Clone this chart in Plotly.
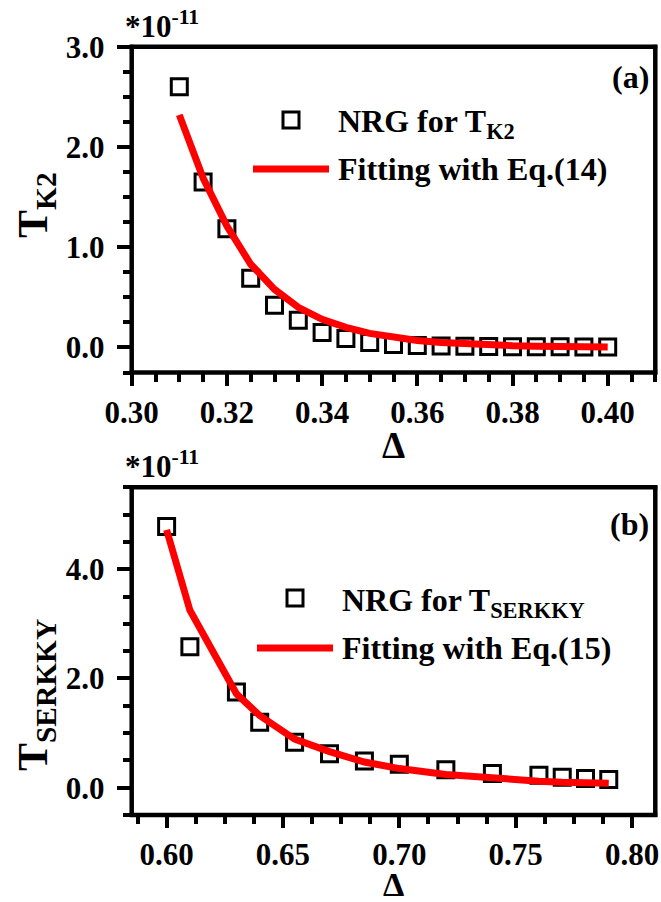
import plotly.graph_objects as go

W, H = 661, 902

# ---------------- data ----------------
# panel (a)
delta_a = [0.310, 0.315, 0.320, 0.325, 0.330, 0.335, 0.340, 0.345, 0.350, 0.355,
           0.360, 0.365, 0.370, 0.375, 0.380, 0.385, 0.390, 0.395, 0.400]
nrg_tk2 = [2.60, 1.65, 1.185, 0.69, 0.42, 0.27, 0.15, 0.09, 0.05, 0.03,
           0.02, 0.015, 0.012, 0.010, 0.008, 0.007, 0.006, 0.005, 0.004]
fit_tk2 = [2.32, 1.69, 1.21, 0.83, 0.58, 0.40, 0.28, 0.20, 0.14, 0.10,
           0.07, 0.05, 0.035, 0.025, 0.018, 0.013, 0.010, 0.007, 0.005]

# panel (b)
delta_b = [0.600, 0.610, 0.630, 0.640, 0.655, 0.670, 0.685, 0.700, 0.720, 0.740,
           0.760, 0.770, 0.780, 0.790]
nrg_serkky = [4.78, 2.58, 1.75, 1.20, 0.83, 0.62, 0.49, 0.43, 0.33, 0.26,
              0.23, 0.19, 0.17, 0.15]
fit_serkky = [4.72, 3.25, 1.72, 1.32, 0.89, 0.66, 0.47, 0.35, 0.24, 0.17,
              0.12, 0.10, 0.09, 0.08]

xticks_a = [0.30, 0.32, 0.34, 0.36, 0.38, 0.40]
yticks_a = [0.0, 1.0, 2.0, 3.0]
xticks_b = [0.60, 0.65, 0.70, 0.75, 0.80]
yticks_b = [0.0, 2.0, 4.0]

FONT = "Times New Roman, Liberation Serif, serif"
BLACK = "#000000"
RED = "#ff0000"


def px(x):
    return x / W


def py(y):
    return 1 - y / H


# plot area pixel boxes
L, R = 131.7, 655.3
A_T, A_B = 46.7, 372.5
B_T, B_B = 487.3, 815.0

fig = go.Figure()

# ---- traces panel (a)
fig.add_trace(go.Scatter(x=delta_a, y=nrg_tk2, mode="markers", xaxis="x", yaxis="y",
                         marker=dict(symbol="square-open", size=16, color=BLACK,
                                     line=dict(width=3, color=BLACK)),
                         showlegend=False, name="NRG for T_K2"))
fig.add_trace(go.Scatter(x=delta_a, y=fit_tk2, mode="lines", xaxis="x", yaxis="y",
                         line=dict(color=RED, width=7), showlegend=False,
                         name="Fitting with Eq.(14)"))
# ---- traces panel (b)
fig.add_trace(go.Scatter(x=delta_b, y=nrg_serkky, mode="markers", xaxis="x2", yaxis="y2",
                         marker=dict(symbol="square-open", size=16, color=BLACK,
                                     line=dict(width=3, color=BLACK)),
                         showlegend=False, name="NRG for T_SERKKY"))
fig.add_trace(go.Scatter(x=delta_b, y=fit_serkky, mode="lines", xaxis="x2", yaxis="y2",
                         line=dict(color=RED, width=7), showlegend=False,
                         name="Fitting with Eq.(15)"))

tickfont = dict(family=FONT, size=31, color=BLACK, weight="bold")


def main_x(rng, dom_anchor, tickvals, minor_dtick, minor_tick0):
    return dict(range=rng, domain=[px(L), px(R)], anchor=dom_anchor, automargin=False,
                showline=False,
                ticks="outside", ticklen=12, tickwidth=4, tickcolor=BLACK,
                tickvals=tickvals, ticktext=[f"{v:.2f}" for v in tickvals],
                minor=dict(ticks="outside", ticklen=8, tickwidth=3.5, tickcolor=BLACK,
                           dtick=minor_dtick, tick0=minor_tick0, showgrid=False),
                tickfont=tickfont, showgrid=False, zeroline=False)


def top_x(rng, overlay, anchor, tickvals, minor_dtick, minor_tick0):
    return dict(range=rng, overlaying=overlay, anchor=anchor, side="top",
                domain=[px(L), px(R)], automargin=False, showline=False,
                ticks="inside", ticklen=13, tickwidth=4, tickcolor=BLACK,
                tickvals=tickvals, showticklabels=False,
                minor=dict(ticks="inside", ticklen=7, tickwidth=3.5, tickcolor=BLACK,
                           dtick=minor_dtick, tick0=minor_tick0, showgrid=False),
                showgrid=False, zeroline=False)


def main_y(rng, dom, anchor, tickvals, minor_dtick):
    return dict(range=rng, domain=dom, anchor=anchor, automargin=False,
                showline=False,
                ticks="outside", ticklen=14, tickwidth=4, tickcolor=BLACK,
                tickvals=tickvals, ticktext=[f"{v:.1f}" for v in tickvals],
                minor=dict(ticks="outside", ticklen=8, tickwidth=3.5, tickcolor=BLACK,
                           dtick=minor_dtick, tick0=0, showgrid=False),
                tickfont=tickfont, showgrid=False, zeroline=False,
                ticklabelstandoff=6)


def right_y(rng, overlay, anchor, tickvals, minor_dtick):
    return dict(range=rng, overlaying=overlay, anchor=anchor, side="right",
                automargin=False, showline=False,
                ticks="inside", ticklen=13, tickwidth=4, tickcolor=BLACK,
                tickvals=tickvals, showticklabels=False,
                minor=dict(ticks="inside", ticklen=7, tickwidth=3.5, tickcolor=BLACK,
                           dtick=minor_dtick, tick0=0, showgrid=False),
                showgrid=False, zeroline=False)


rng_xa = [0.30, 0.41]
rng_ya = [-0.25, 3.0]
rng_xb = [0.585, 0.81]
rng_yb = [-0.5, 5.5]

fig.update_layout(
    width=W, height=H,
    margin=dict(l=0, r=0, t=0, b=0, pad=0),
    paper_bgcolor="white", plot_bgcolor="white",
    xaxis=main_x(rng_xa, "y", xticks_a, 0.005, 0.30),
    yaxis=main_y(rng_ya, [py(A_B), py(A_T)], "x", yticks_a, 0.25),
    xaxis3=top_x(rng_xa, "x", "y", xticks_a, 0.005, 0.30),
    yaxis3=right_y(rng_ya, "y", "x", yticks_a, 0.25),
    xaxis2=main_x(rng_xb, "y2", xticks_b, 0.0125, 0.5875),
    yaxis2=main_y(rng_yb, [py(B_B), py(B_T)], "x2", yticks_b, 0.5),
    xaxis4=top_x(rng_xb, "x2", "y2", xticks_b, 0.0125, 0.5875),
    yaxis4=right_y(rng_yb, "y2", "x2", yticks_b, 0.5),
)

# plot frames (axis box lines), drawn as four edges per panel in paper coords
FW = 4.5
for top, bot in ((A_T, A_B), (B_T, B_B)):
    edges = ((L - 2, top, R + 2, top), (L - 2, bot, R + 2, bot),
             (L, top - 2, L, bot + 2), (R, top - 2, R, bot + 2))
    for (x0, y0, x1, y1) in edges:
        fig.add_shape(type="line", xref="paper", yref="paper",
                      x0=px(x0), x1=px(x1), y0=py(y0), y1=py(y1),
                      line=dict(color=BLACK, width=FW), layer="above")


def txt(s, x, y, size, xanchor="left", yanchor="middle", angle=0):
    fig.add_annotation(text=s, x=px(x), y=py(y), xref="paper", yref="paper",
                       xanchor=xanchor, yanchor=yanchor, showarrow=False,
                       textangle=angle, borderpad=0,
                       font=dict(family=FONT, size=size, color=BLACK, weight="bold"))


# multipliers
txt("*10<sup>-11</sup>", 124, 24, 31)
txt("*10<sup>-11</sup>", 124, 464, 31)
# panel labels
txt("(a)", 650, 77, 32, xanchor="right")
txt("(b)", 650, 524, 32, xanchor="right")
# axis titles
txt("Δ", 393, 446, 37, xanchor="center")
txt("Δ", 393, 884, 34, xanchor="center")
txt("T<sub>K2</sub>", 36, 205, 42, xanchor="center", angle=-90)
txt("T<sub>SERKKY</sub>", 36, 695, 42, xanchor="center", angle=-90)

# legend (a)
fig.add_shape(type="rect", xref="paper", yref="paper",
              x0=px(291 - 8), x1=px(291 + 8), y0=py(120 + 8), y1=py(120 - 8),
              line=dict(color=BLACK, width=3))
fig.add_shape(type="line", xref="paper", yref="paper",
              x0=px(253), x1=px(329), y0=py(169), y1=py(169),
              line=dict(color=RED, width=7))
txt("NRG for T<sub>K2</sub>", 337, 124, 32)
txt("Fitting with Eq.(14)", 337, 169, 32)

# legend (b)
fig.add_shape(type="rect", xref="paper", yref="paper",
              x0=px(295 - 8), x1=px(295 + 8), y0=py(598 + 8), y1=py(598 - 8),
              line=dict(color=BLACK, width=3))
fig.add_shape(type="line", xref="paper", yref="paper",
              x0=px(257), x1=px(333), y0=py(648), y1=py(648),
              line=dict(color=RED, width=7))
txt("NRG for T<sub>SERKKY</sub>", 341, 602, 32)
txt("Fitting with Eq.(15)", 341, 648, 32)

fig.write_html("out.html")
